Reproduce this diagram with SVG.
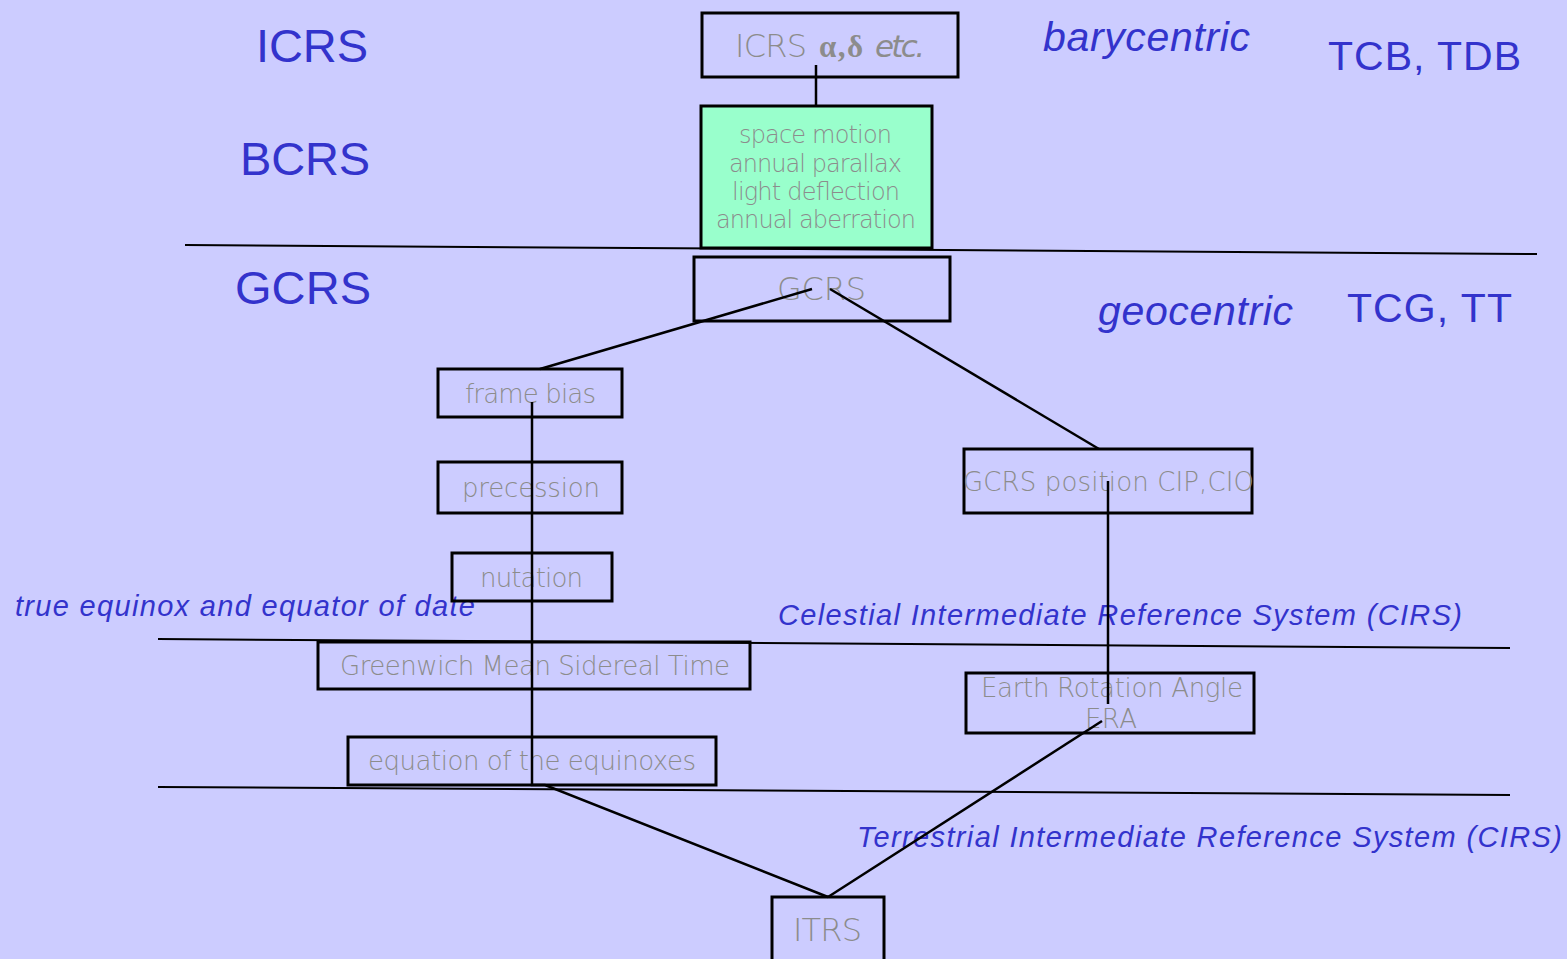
<svg xmlns="http://www.w3.org/2000/svg" width="1567" height="959" viewBox="0 0 1567 959">
<style>
.box{fill:none;stroke:#000;stroke-width:3}
.g{font-family:"DejaVu Sans","Liberation Sans",sans-serif;fill:#8c8c8c;font-weight:300}
.lbl{font-family:"Liberation Sans",Arial,sans-serif;fill:#3333cc}
.it{font-style:italic}
.con line,.con polyline{stroke:#000;stroke-width:2.5;fill:none}
.sep{stroke:#000;stroke-width:2}
</style>
<rect width="1567" height="959" fill="#ccccff"/>
<g id="separators" class="sep">
<line x1="185" y1="245" x2="1537" y2="254"/>
<line x1="158" y1="639" x2="1510" y2="648"/>
<line x1="158" y1="787" x2="1510" y2="795"/>
</g>
<g id="labels" class="lbl">
<text x="256" y="62" font-size="47" textLength="112">ICRS</text>
<text x="240" y="175" font-size="47" textLength="130">BCRS</text>
<text x="235" y="304" font-size="47" textLength="136">GCRS</text>
<text x="1043" y="51" font-size="41" class="it" textLength="207">barycentric</text>
<text x="1328" y="70" font-size="41" textLength="193">TCB, TDB</text>
<text x="1098" y="325" font-size="41" class="it" textLength="195">geocentric</text>
<text x="1347" y="322" font-size="41" textLength="165">TCG, TT</text>
<text x="15" y="616" font-size="29" class="it" textLength="460">true equinox and equator of date</text>
<text x="778" y="625" font-size="29" class="it" textLength="684">Celestial Intermediate Reference System (CIRS)</text>
<text x="857" y="847" font-size="29" class="it" textLength="705">Terrestrial Intermediate Reference System (CIRS)</text>
</g>
<g id="n-icrs">
<rect class="box" x="702" y="13" width="256" height="64"/>
<text class="g" x="735" y="57" font-size="32" textLength="72">ICRS</text>
<text x="819" y="57" font-size="31" font-family="'Liberation Serif',serif" font-weight="bold" fill="#8c8c8c" textLength="44">α,δ</text>
<text class="g" x="875" y="57" font-size="31" font-style="italic" textLength="50">etc.</text>
</g>
<g id="n-bcrs">
<rect x="701" y="106" width="231" height="142" fill="#99ffcc" stroke="#000" stroke-width="3"/>
<text class="g" x="739" y="143" font-size="24" textLength="153">space motion</text>
<text class="g" x="729" y="172" font-size="24" textLength="173">annual parallax</text>
<text class="g" x="732" y="200" font-size="24" textLength="168">light deflection</text>
<text class="g" x="716" y="228" font-size="24" textLength="200">annual aberration</text>
</g>
<g id="n-gcrs">
<rect class="box" x="694" y="257" width="256" height="64"/>
<text class="g" x="777" y="300" font-size="32" textLength="89">GCRS</text>
</g>
<g id="n-framebias">
<rect class="box" x="438" y="369" width="184" height="48"/>
<text class="g" x="465" y="403" font-size="26" textLength="131">frame bias</text>
</g>
<g id="n-precession">
<rect class="box" x="438" y="462" width="184" height="51"/>
<text class="g" x="462" y="497" font-size="26" textLength="138">precession</text>
</g>
<g id="n-nutation">
<rect class="box" x="452" y="553" width="160" height="48"/>
<text class="g" x="480" y="587" font-size="26" textLength="103">nutation</text>
</g>
<g id="n-gmst">
<rect class="box" x="318" y="642" width="432" height="47"/>
<text class="g" x="340" y="675" font-size="26" textLength="390">Greenwich Mean Sidereal Time</text>
</g>
<g id="n-eqeq">
<rect class="box" x="348" y="737" width="368" height="48"/>
<text class="g" x="368" y="770" font-size="26" textLength="328">equation of the equinoxes</text>
</g>
<g id="n-gcrspos">
<rect class="box" x="964" y="449" width="288" height="64"/>
<text class="g" x="963" y="491" font-size="26" textLength="291">GCRS position CIP,CIO</text>
</g>
<g id="n-era">
<rect class="box" x="966" y="673" width="288" height="60"/>
<text class="g" x="981" y="697" font-size="26" textLength="262">Earth Rotation Angle</text>
<text class="g" x="1085" y="728" font-size="26" textLength="52">ERA</text>
</g>
<g id="n-itrs">
<rect class="box" x="772" y="897" width="112" height="70"/>
<text class="g" x="793" y="941" font-size="32" textLength="69">ITRS</text>
</g>
<g id="connectors" class="con">
<line x1="816" y1="65" x2="816" y2="106"/>
<line x1="812" y1="289" x2="540" y2="369"/>
<line x1="830" y1="289" x2="1099" y2="449"/>
<polyline points="532,402 532,785 545,785 828,897"/>
<line x1="1108" y1="481" x2="1108" y2="704"/>
<line x1="1102" y1="721" x2="828" y2="897"/>
</g>
</svg>
